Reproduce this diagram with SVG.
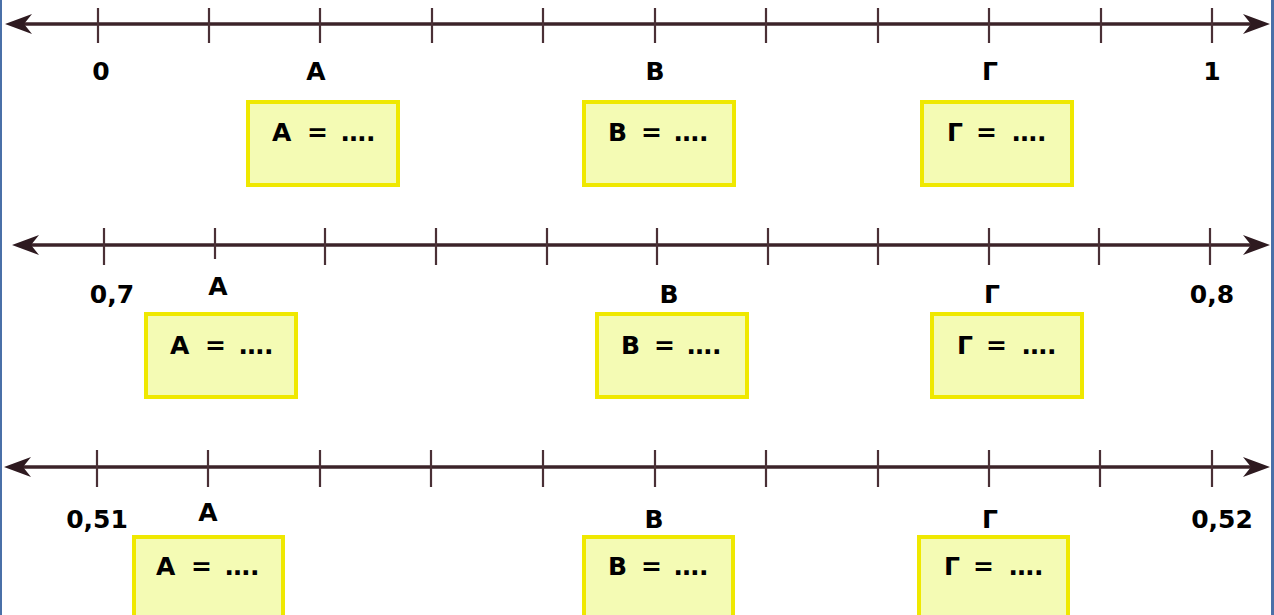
<svg xmlns="http://www.w3.org/2000/svg" width="1274" height="615" viewBox="0 0 1274 615">
<defs>
<style>
.axis{stroke:#3b2329;stroke-width:3.5;fill:none}
.tick{stroke:#4a3036;stroke-width:2.2}
.head{fill:#2e1a20}
.lbl{font-family:"DejaVu Sans","Liberation Sans",sans-serif;font-weight:bold;font-size:25px;fill:#000;text-anchor:middle}
.box{fill:#f4fbb4;stroke:#efe800;stroke-width:4}
.bt{font-family:"DejaVu Sans","Liberation Sans",sans-serif;font-weight:bold;font-size:25px;fill:#000}
</style>
</defs>
<rect x="0" y="0" width="1274" height="615" fill="#ffffff"/>
<rect x="0" y="0" width="2" height="615" fill="#4a70a8"/>
<rect x="1271" y="0" width="3" height="615" fill="#4a70a8"/>

<g id="connectors">
<g id="line1">
<line class="axis" x1="15" y1="24" x2="1262" y2="24"/>
<path class="head" d="M5,24 L32,14 L24,24 L32,34 Z"/>
<path class="head" d="M1270,24 L1243,14 L1251,24 L1243,34 Z"/>
<path class="tick" d="M98,8V43M209,8V43M320,8V43M432,8V43M543,8V43M655,8V43M766,8V43M878,8V43M989,8V43M1101,8V43M1212,8V43"/>
</g>
<g id="line2">
<line class="axis" x1="22" y1="245" x2="1262" y2="245"/>
<path class="head" d="M12,245 L39,235 L31,245 L39,255 Z"/>
<path class="head" d="M1270,245 L1243,235 L1251,245 L1243,255 Z"/>
<path class="tick" d="M104,228V265M215,228V259M325,228V265M436,228V265M547,228V265M657,228V265M768,228V265M878,228V265M989,228V265M1099,228V265M1210,228V265"/>
</g>
<g id="line3">
<line class="axis" x1="14" y1="467" x2="1262" y2="467"/>
<path class="head" d="M4,467 L31,457 L23,467 L31,477 Z"/>
<path class="head" d="M1270,467 L1243,457 L1251,467 L1243,477 Z"/>
<path class="tick" d="M97,450V487M208,450V487M320,450V487M431,450V487M543,450V487M655,450V487M766,450V487M878,450V487M989,450V487M1100,450V487M1212,450V487"/>
</g>
</g>

<g id="labels1">
<text class="lbl" x="101" y="80">0</text>
<text class="lbl" x="316" y="80">A</text>
<text class="lbl" x="655" y="80">B</text>
<text class="lbl" x="990" y="80">Γ</text>
<text class="lbl" x="1212" y="80">1</text>
</g>
<g id="labels2">
<text class="lbl" x="112" y="303">0,7</text>
<text class="lbl" x="218" y="295">A</text>
<text class="lbl" x="669" y="303">B</text>
<text class="lbl" x="992" y="303">Γ</text>
<text class="lbl" x="1212" y="303">0,8</text>
</g>
<g id="labels3">
<text class="lbl" x="97" y="528">0,51</text>
<text class="lbl" x="208" y="521">A</text>
<text class="lbl" x="654" y="528">B</text>
<text class="lbl" x="990" y="528">Γ</text>
<text class="lbl" x="1222" y="528">0,52</text>
</g>

<g id="boxA1"><rect class="box" x="248" y="102" width="150" height="83"/><text class="bt" y="141"><tspan x="272">A</tspan><tspan x="307">=</tspan><tspan x="341">….</tspan></text></g>
<g id="boxB1"><rect class="box" x="584" y="102" width="150" height="83"/><text class="bt" y="141"><tspan x="608">B</tspan><tspan x="641">=</tspan><tspan x="674">….</tspan></text></g>
<g id="boxG1"><rect class="box" x="922" y="102" width="150" height="83"/><text class="bt" y="141"><tspan x="947">Γ</tspan><tspan x="976">=</tspan><tspan x="1012">….</tspan></text></g>

<g id="boxA2"><rect class="box" x="146" y="314" width="150" height="83"/><text class="bt" y="354"><tspan x="170">A</tspan><tspan x="205">=</tspan><tspan x="239">….</tspan></text></g>
<g id="boxB2"><rect class="box" x="597" y="314" width="150" height="83"/><text class="bt" y="354"><tspan x="621">B</tspan><tspan x="654">=</tspan><tspan x="687">….</tspan></text></g>
<g id="boxG2"><rect class="box" x="932" y="314" width="150" height="83"/><text class="bt" y="354"><tspan x="957">Γ</tspan><tspan x="986">=</tspan><tspan x="1022">….</tspan></text></g>

<g id="boxA3"><rect class="box" x="134" y="537" width="149" height="90"/><text class="bt" y="575"><tspan x="156">A</tspan><tspan x="191">=</tspan><tspan x="225">….</tspan></text></g>
<g id="boxB3"><rect class="box" x="584" y="537" width="149" height="90"/><text class="bt" y="575"><tspan x="608">B</tspan><tspan x="641">=</tspan><tspan x="674">….</tspan></text></g>
<g id="boxG3"><rect class="box" x="919" y="537" width="149" height="90"/><text class="bt" y="575"><tspan x="944">Γ</tspan><tspan x="973">=</tspan><tspan x="1009">….</tspan></text></g>
</svg>
